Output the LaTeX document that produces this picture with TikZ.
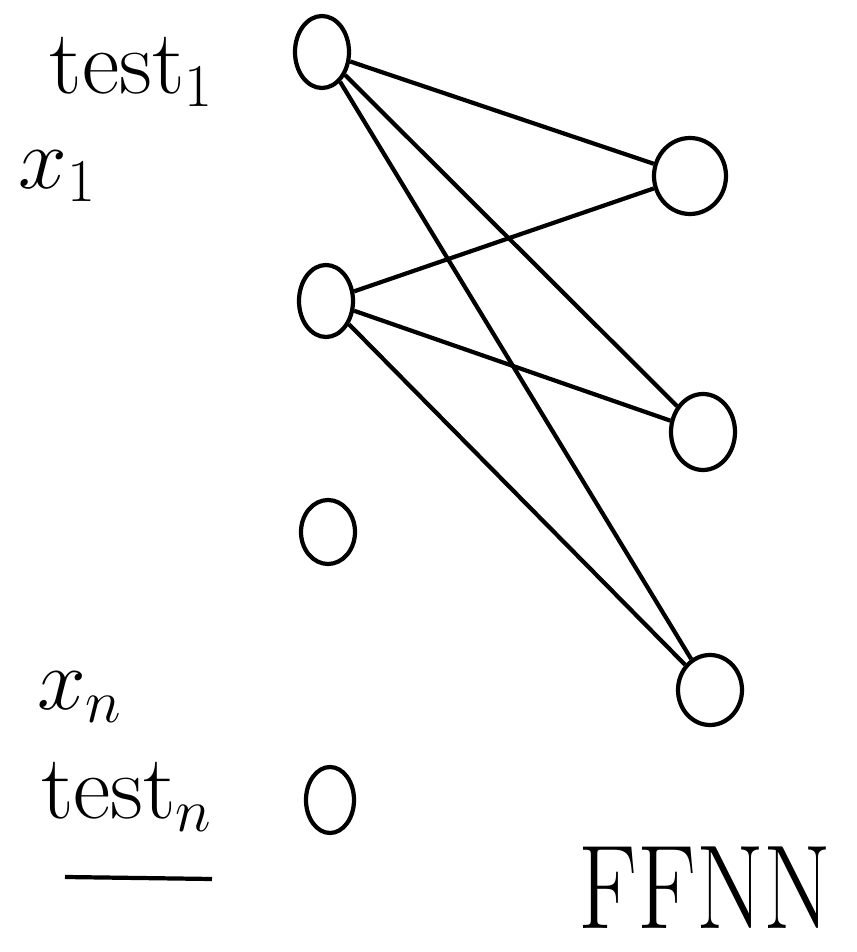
\documentclass[tikz,border=0pt]{standalone}
\usetikzlibrary{shapes.geometric}

\begin{document}
\begin{tikzpicture}[line width=1.2pt,
  neuron/.style={draw,ellipse,inner sep=0pt,minimum width=0.54cm,minimum height=0.72cm},
  bigneuron/.style={neuron,minimum width=0.64cm,minimum height=0.76cm},
  lbl/.style={font=\fontsize{26}{30}\selectfont}]
\useasboundingbox (0,0) rectangle (8.57,9.52);
% input column
\node[neuron] (in1) at (3.22,9.00) {};
\node[neuron] (in2) at (3.26,6.51) {};
\node[neuron,minimum height=0.64cm] (in3) at (3.28,4.20) {};
\node[neuron,minimum width=0.48cm,minimum height=0.66cm] (in4) at (3.30,1.52) {};
% hidden column
\node[bigneuron,minimum width=0.72cm] (h1) at (6.90,7.76) {};
\node[bigneuron] (h2) at (7.03,5.20) {};
\node[bigneuron,minimum height=0.70cm] (h3) at (7.10,2.62) {};
% labels
\node[lbl] (test1) at (1.32,8.80) {test$_1$};
\node[lbl] (x1) at (0.58,7.76) {$x_1$};
\node[lbl] (xn) at (0.80,2.55) {$x_n$};
\node[lbl] (testn) at (1.27,1.55) {test$_n$};
\coordinate (ul1) at (0.65,0.75);
\coordinate (ul2) at (2.12,0.73);
\draw (ul1) -- (ul2);
\node[font=\fontsize{34}{38}\selectfont,inner sep=0pt] (ffnn) at (7.05,0.64) {\scalebox{0.82}[1]{FFNN}};
% connections
\foreach \i in {1,2}{
  \foreach \j in {1,2,3}{
    \draw (in\i) -- (h\j);
  }
}
\end{tikzpicture}
\end{document}
